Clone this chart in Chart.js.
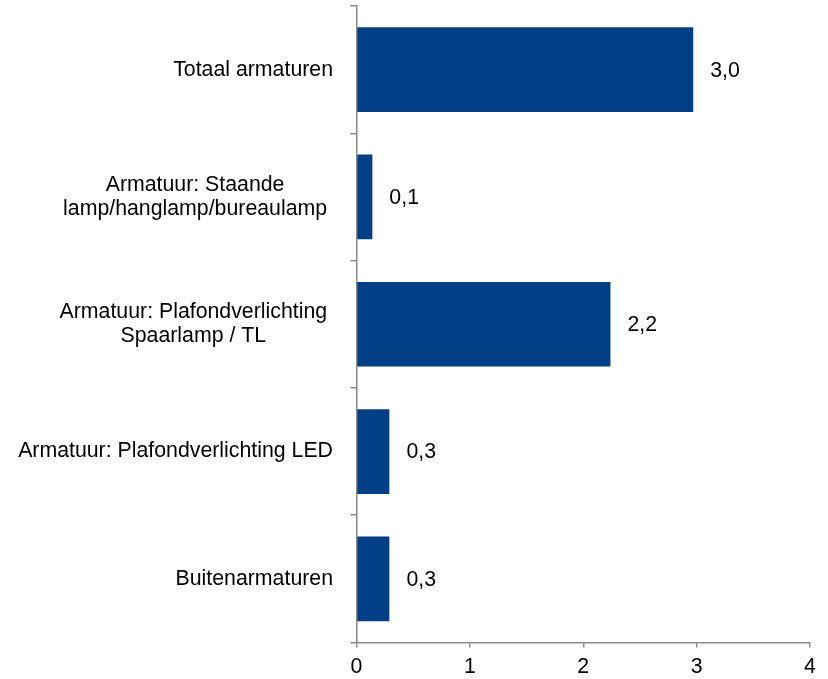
<!DOCTYPE html>
<html>
<head>
<meta charset="utf-8">
<script src="https://cdn.jsdelivr.net/npm/chart.js@4"></script>
<style>
html,body{margin:0;padding:0;background:#fff;}
#wrap{width:828px;height:679px;position:relative;}
</style>
</head>
<body>
<div id="wrap"><canvas id="c" width="828" height="679"></canvas></div>
<script>
const categories = [
  ["Totaal armaturen"],
  ["Armatuur: Staande", "lamp/hanglamp/bureaulamp"],
  ["Armatuur: Plafondverlichting", "Spaarlamp / TL"],
  ["Armatuur: Plafondverlichting LED"],
  ["Buitenarmaturen"]
];
const values = [2.97, 0.14, 2.24, 0.29, 0.29];
const xTicks = [0, 1, 2, 3, 4];

const FONT = '"Liberation Sans", Arial, sans-serif';
const FS = 21.3;
const AXIS = '#8a8a8a';

const labelPlugin = {
  id: 'labels',
  afterDraw(chart) {
    const ctx = chart.ctx;
    const ys = chart.scales.y;
    const meta = chart.getDatasetMeta(0);
    ctx.save();
    ctx.font = FS + 'px ' + FONT;
    ctx.fillStyle = '#000';
    ctx.textBaseline = 'middle';
    const lineH = 24;
    const sp = ctx.measureText(' ').width;
    categories.forEach((lines, i) => {
      const cy = ys.getPixelForValue(i);
      const rightEdge = 333 - (lines.length > 1 ? sp : 0);
      const w = Math.max(...lines.map(l => ctx.measureText(l).width));
      const cx = rightEdge - w / 2;
      ctx.textAlign = 'center';
      const y0 = cy - (lines.length - 1) * lineH / 2;
      lines.forEach((l, k) => ctx.fillText(l, cx, y0 + k * lineH));
    });
    ctx.textAlign = 'left';
    meta.data.forEach((bar, i) => {
      const txt = values[i].toFixed(1).replace('.', ',');
      ctx.fillText(txt, bar.x + 17, bar.y + 1);
    });
    ctx.restore();
  }
};

new Chart(document.getElementById('c'), {
  type: 'bar',
  data: {
    labels: categories,
    datasets: [{
      data: values,
      backgroundColor: '#023F86',
      borderWidth: 0,
      barPercentage: 0.665,
      categoryPercentage: 1.0
    }]
  },
  options: {
    indexAxis: 'y',
    responsive: false,
    animation: false,
    events: [],
    layout: { padding: { left: 0, right: 18, top: 6, bottom: 0 } },
    plugins: { legend: { display: false }, tooltip: { enabled: false } },
    scales: {
      x: {
        min: 0, max: 4,
        afterBuildTicks(scale) { scale.ticks = xTicks.map(v => ({ value: v })); },
        ticks: {
          color: '#000',
          font: { family: FONT, size: FS },
          padding: 7,
          maxRotation: 0
        },
        grid: { drawOnChartArea: false, color: AXIS, tickLength: 5, lineWidth: 1.5 },
        border: { color: AXIS, width: 1.5 },
        afterFit(scale) { scale.height = 36.5; }
      },
      y: {
        ticks: { display: false },
        grid: { drawOnChartArea: false, color: AXIS, tickLength: 6, lineWidth: 1.5, offset: true },
        border: { color: AXIS, width: 1.5 },
        afterFit(scale) { scale.width = 356.5; }
      }
    }
  },
  plugins: [labelPlugin]
});
</script>
</body>
</html>
